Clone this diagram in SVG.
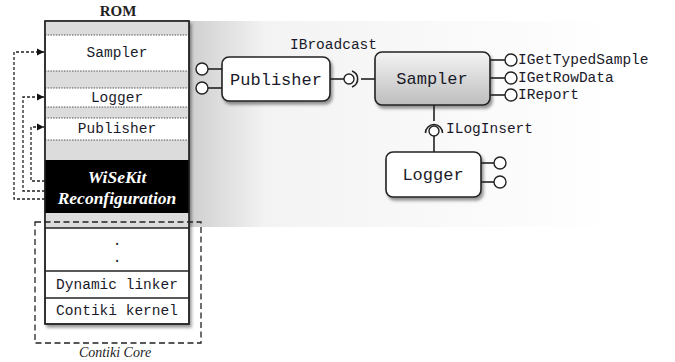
<svg xmlns="http://www.w3.org/2000/svg" width="675" height="362" viewBox="0 0 675 362">
<defs>
<linearGradient id="band" x1="0" y1="0" x2="1" y2="0">
<stop offset="0" stop-color="#cfcfcf"/>
<stop offset="0.18" stop-color="#f3f3f3"/>
<stop offset="1" stop-color="#ffffff"/>
</linearGradient>
<linearGradient id="bandline" x1="0" y1="0" x2="1" y2="0">
<stop offset="0" stop-color="#d8d8d8"/>
<stop offset="0.85" stop-color="#ececec"/>
<stop offset="1" stop-color="#ffffff"/>
</linearGradient>
<linearGradient id="samp" x1="0" y1="0" x2="0" y2="1">
<stop offset="0" stop-color="#f4f4f4"/>
<stop offset="1" stop-color="#bdbdbd"/>
</linearGradient>
<filter id="sh" x="-10%" y="-10%" width="130%" height="140%">
<feDropShadow dx="2" dy="3" stdDeviation="1.6" flood-color="#000" flood-opacity="0.4"/>
</filter>
<marker id="ah" markerWidth="8" markerHeight="8" refX="7" refY="4" orient="auto" markerUnits="userSpaceOnUse">
<path d="M0,0.5 L7,4 L0,7.5 Z" fill="#111"/>
</marker>
<style>
.mono{font-family:"Liberation Mono","Courier New",monospace;fill:#1a1a2a;}
.lab{font-size:14.5px;}
.box{font-size:17px;text-anchor:middle;}
.row{font-size:14.5px;text-anchor:middle;}
.ln{stroke:#222;stroke-width:1.6;fill:none;}
.lol{stroke:#222;stroke-width:1.4;fill:#fff;}
.gray{fill:#dcdcdc;}
.sep{stroke:#555;stroke-width:1;stroke-dasharray:1.5 1.2;}
.sol{stroke:#222;stroke-width:1.4;}
.dot{stroke:#222;stroke-width:1.3;stroke-dasharray:3 2;fill:none;}
.core{stroke:#222;stroke-width:1.3;stroke-dasharray:6 3.5;fill:none;}
.serif{font-family:"Liberation Serif","Times New Roman",serif;}
</style>
</defs>

<!-- background band -->
<rect x="189" y="21" width="430" height="206" fill="url(#band)"/>
<line x1="189" y1="21" x2="619" y2="21" stroke="url(#bandline)" stroke-width="2"/>
<line x1="189" y1="227" x2="619" y2="227" stroke="url(#bandline)" stroke-width="2"/>

<text x="118" y="16" class="serif" font-weight="bold" font-size="15" text-anchor="middle" fill="#222">ROM</text>

<!-- ROM column -->
<g id="rom">
<g filter="url(#sh)">
<rect x="45" y="21" width="144" height="303" fill="#fff" stroke="#222" stroke-width="1.4"/>
</g>
<rect x="45.7" y="21.7" width="142.6" height="13.3" class="gray"/>
<rect x="45.7" y="71" width="142.6" height="17" class="gray"/>
<rect x="45.7" y="107" width="142.6" height="11" class="gray"/>
<rect x="45.7" y="140" width="142.6" height="20" class="gray"/>
<rect x="45.7" y="213" width="142.6" height="15" class="gray"/>
<line x1="45" y1="35" x2="189" y2="35" class="sep"/>
<line x1="45" y1="71" x2="189" y2="71" class="sep"/>
<line x1="45" y1="88" x2="189" y2="88" class="sep"/>
<line x1="45" y1="107" x2="189" y2="107" class="sep"/>
<line x1="45" y1="118" x2="189" y2="118" class="sep"/>
<line x1="45" y1="140" x2="189" y2="140" class="sep"/>
<rect x="45" y="160" width="144" height="53" fill="#000"/>
<line x1="45" y1="228" x2="189" y2="228" class="sol"/>
<line x1="45" y1="271" x2="189" y2="271" class="sol"/>
<line x1="45" y1="298" x2="189" y2="298" class="sol"/>
<rect x="45" y="21" width="144" height="303" fill="none" stroke="#222" stroke-width="1.4"/>
<text x="117" y="57" class="mono row">Sampler</text>
<text x="117" y="102" class="mono row">Logger</text>
<text x="117" y="133" class="mono row">Publisher</text>
<text x="117" y="183" class="serif" font-style="italic" font-weight="bold" font-size="17.5" text-anchor="middle" fill="#fff">WiSeKit</text>
<text x="117" y="204" class="serif" font-style="italic" font-weight="bold" font-size="17.5" text-anchor="middle" fill="#fff">Reconfiguration</text>
<text x="117" y="245" class="mono row">.</text>
<text x="117" y="262" class="mono row">.</text>
<text x="117" y="289" class="mono row">Dynamic linker</text>
<text x="117" y="315" class="mono row">Contiki kernel</text>
</g>

<!-- Contiki core -->
<g id="contiki-core">
<rect x="35" y="222" width="166" height="121" class="core"/>
<text x="115" y="357" class="serif" font-style="italic" font-size="14" text-anchor="middle" fill="#222">Contiki Core</text>
</g>

<!-- Components -->
<g id="publisher">
<rect x="222" y="57" width="108" height="44" rx="7" fill="#fff" stroke="#222" stroke-width="1.6" filter="url(#sh)"/>
<text x="276" y="85" class="mono box">Publisher</text>
<line x1="208" y1="69" x2="222" y2="69" class="ln"/>
<line x1="208" y1="88" x2="222" y2="88" class="ln"/>
<circle cx="202" cy="69" r="6" class="lol"/>
<circle cx="202" cy="88" r="6" class="lol"/>
</g>

<g id="sampler">
<rect x="375" y="52" width="115" height="53" rx="7" fill="url(#samp)" stroke="#222" stroke-width="1.6" filter="url(#sh)"/>
<text x="432" y="84" class="mono box">Sampler</text>
<line x1="490" y1="60" x2="505" y2="60" class="ln"/>
<line x1="490" y1="78" x2="505" y2="78" class="ln"/>
<line x1="490" y1="95" x2="505" y2="95" class="ln"/>
<circle cx="511" cy="60" r="6" class="lol"/>
<circle cx="511" cy="78" r="6" class="lol"/>
<circle cx="511" cy="95" r="6" class="lol"/>
<text x="518" y="64" class="mono lab">IGetTypedSample</text>
<text x="518" y="82" class="mono lab">IGetRowData</text>
<text x="518" y="99" class="mono lab">IReport</text>
</g>

<g id="logger">
<rect x="386" y="152" width="95" height="45" rx="7" fill="#fff" stroke="#222" stroke-width="1.6" filter="url(#sh)"/>
<text x="433" y="180" class="mono box" font-size="16">Logger</text>
<line x1="481" y1="163" x2="494" y2="163" class="ln"/>
<line x1="481" y1="182" x2="494" y2="182" class="ln"/>
<circle cx="500" cy="163" r="6" class="lol"/>
<circle cx="500" cy="182" r="6" class="lol"/>
</g>

<!-- connectors -->
<g id="connectors">
<!-- IBroadcast -->
<line x1="330" y1="79" x2="344" y2="79" class="ln"/>
<circle cx="349" cy="79" r="5" class="lol"/>
<path d="M352,71 A8.5,8.5 0 0 1 352,87" class="ln" stroke-width="1.4"/>
<line x1="361" y1="79" x2="375" y2="79" class="ln"/>
<text x="290" y="49" class="mono lab">IBroadcast</text>
<!-- ILogInsert -->
<line x1="434" y1="105" x2="434" y2="121" class="ln"/>
<path d="M425.5,133 A8.5,8.5 0 0 1 442.5,133" class="ln" stroke-width="1.4"/>
<circle cx="434" cy="131" r="5" class="lol"/>
<line x1="434" y1="136" x2="434" y2="152" class="ln"/>
<text x="446" y="133" class="mono lab">ILogInsert</text>
<!-- dotted reconfiguration arrows -->
<path d="M45,199 H14 V52 H44" class="dot" marker-end="url(#ah)"/>
<path d="M45,191 H23 V97 H44" class="dot" marker-end="url(#ah)"/>
<path d="M45,181 H31 V127 H44" class="dot" marker-end="url(#ah)"/>
</g>
</svg>
